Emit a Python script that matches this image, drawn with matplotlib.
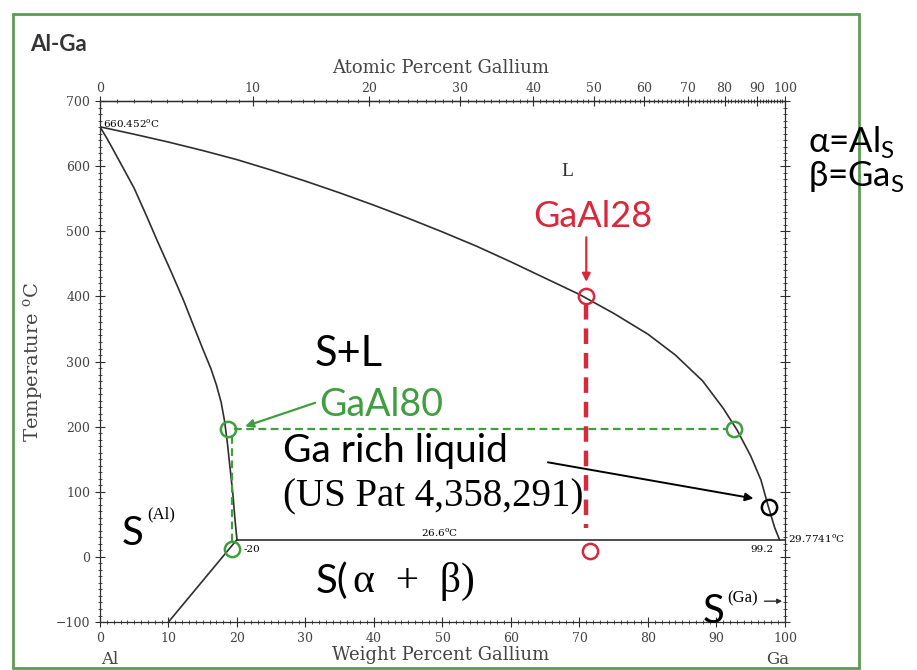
import matplotlib
matplotlib.use("Agg")
import matplotlib.pyplot as plt
from matplotlib.patches import Rectangle
from matplotlib.ticker import MultipleLocator, FixedLocator
import numpy as np

# phase boundaries (weight % Ga, temperature degC)
liq_wt = [0, 5, 10, 15, 20, 25, 30, 35, 40, 45, 50, 55, 60, 65, 70, 75, 80, 84, 88, 91,
          93, 95, 96.5, 97.5, 98.5, 99.2]
liq_T = [660.452, 649, 637, 624, 610, 594, 577, 559, 540, 520, 499, 477, 453, 428, 403, 374,
         342, 310, 270, 228, 195, 155, 118, 80, 45, 26.6]
sol_wt = [0, 1, 2, 3.4, 5, 6.7, 8.3, 10.3, 12.2, 13.7, 15.1, 16.2, 17.0, 17.7, 18.2, 18.6,
          19.0, 19.4, 19.7, 20.0]
sol_T = [660.452, 643, 624, 597, 566, 526, 487, 440, 394, 354, 317, 289, 264, 237, 208, 175,
         136, 97, 59, 26.6]
solvus_wt = [20.0, 10.0]
solvus_T = [26.6, -100]
eut_wt = [20.0, 100]
eut_T = [26.6, 26.6]

# marked alloys
gaal28_wt = [71.0, 71.6]
gaal28_T = [400, 9]
gaal80_wt = [18.7, 92.6, 19.3]
gaal80_T = [197, 197, 12]
ga_rich_wt = [97.6]
ga_rich_T = [77]

at_ticks = [0, 10, 20, 30, 40, 50, 60, 70, 80, 90, 100]

M_GA = 69.723
M_AL = 26.982


def wt2at(w):
    w = np.clip(np.asarray(w, dtype=float), 1e-9, 100 - 1e-9)
    return 100 * (w / M_GA) / (w / M_GA + (100 - w) / M_AL)


def at2wt(a):
    a = np.clip(np.asarray(a, dtype=float), 1e-9, 100 - 1e-9)
    return 100 * a * M_GA / (a * M_GA + (100 - a) * M_AL)


red = '#d8283c'
green = '#3f9f3f'
dark = '#2e2e2e'
grey = '#444444'
sans = ['Lato', 'DejaVu Sans']
serif = ['Liberation Serif', 'DejaVu Serif']
tickfont = 'DejaVu Serif'

fig = plt.figure(figsize=(9.17, 6.7), dpi=100)
ax = fig.add_axes([0.109, 0.0716, 0.747, 0.7776])

ax.plot(liq_wt, liq_T, color=dark, lw=1.2)
ax.plot(sol_wt, sol_T, color=dark, lw=1.2)
ax.plot(solvus_wt, solvus_T, color=dark, lw=1.2)
ax.plot(eut_wt, eut_T, color=dark, lw=1.2)

# GaAl28
ax.plot([gaal28_wt[0], gaal28_wt[0]], [388, 45], color=red, lw=3.2, dashes=(3.5, 2))
ax.plot(gaal28_wt, gaal28_T, 'o', ms=11, mfc='none', mec=red, mew=1.8)
ax.annotate('', xy=(gaal28_wt[0], 418), xytext=(gaal28_wt[0], 495),
            arrowprops=dict(arrowstyle='-|>', color=red, lw=1.6, mutation_scale=12))
ax.text(72.0, 523, 'GaAl28', color=red, fontsize=26, family=sans, ha='center', va='center')

# GaAl80
ax.plot([gaal80_wt[0] + 0.8, gaal80_wt[1] - 1], [gaal80_T[0], gaal80_T[1]], color=green, lw=1.6,
        dashes=(3.5, 2))
ax.plot([gaal80_wt[2], gaal80_wt[2]], [gaal80_T[0] - 12, gaal80_T[2] + 12], color=green, lw=1.6,
        dashes=(3.5, 2))
ax.plot(gaal80_wt, gaal80_T, 'o', ms=11, mfc='none', mec=green, mew=1.8)
ax.annotate('', xy=(20.8, 199), xytext=(31.8, 238),
            arrowprops=dict(arrowstyle='-|>', color=green, lw=1.6, mutation_scale=12))
ax.text(32.0, 234, 'GaAl80', color=green, fontsize=27, family=sans, ha='left', va='center')

# Ga rich liquid
ax.plot(ga_rich_wt, ga_rich_T, 'o', ms=11, mfc='none', mec='black', mew=1.8)
ax.annotate('', xy=(95.8, 89), xytext=(65, 146),
            arrowprops=dict(arrowstyle='-|>', color='black', lw=1.4, mutation_scale=12))
ax.text(26.7, 162, 'Ga rich liquid', color='black', fontsize=28, family=sans, ha='left', va='center')
ax.text(26.7, 92, '(US Pat 4,358,291)', color='black', fontsize=28, family=serif, ha='left',
        va='center')

# region labels
ax.text(68.3, 592, 'L', fontsize=14, family=serif, ha='center', va='center', color=dark)
ax.text(36.3, 312, 'S+L', fontsize=30, family=sans, ha='center', va='center')
ax.text(4.8, 36, 'S', fontsize=29, family=sans, ha='center', va='center')
ax.text(6.9, 66, '(Al)', fontsize=12, family=serif, ha='left', va='center')
ax.text(31.5, -38, 'S(', fontsize=29, family=sans, ha='left', va='center')
ax.text(36.9, -38, 'α  +  β)', fontsize=30, family=serif, ha='left', va='center')
ax.text(89.6, -84, 'S', fontsize=29, family=sans, ha='center', va='center', clip_on=False)
ax.text(91.6, -64, '(Ga)', fontsize=12, family=serif, ha='left', va='center')
ax.annotate('', xy=(100, -68), xytext=(96.6, -68),
            arrowprops=dict(arrowstyle='-|>', color=dark, lw=1.0, mutation_scale=7))

# small diagram labels
ax.text(0.5, 666, '660.452$^{\\mathregular{o}}$C', fontsize=7.5, family=tickfont, ha='left',
        va='center')
ax.text(20.9, 11, '-20', fontsize=7.5, family=tickfont, ha='left', va='center')
ax.text(49.6, 37, '26.6$^{\\mathregular{o}}$C', fontsize=7.5, family=tickfont, ha='center',
        va='center')
ax.text(96.6, 11, '99.2', fontsize=7.5, family=tickfont, ha='center', va='center')
ax.text(100.5, 28, '29.7741$^{\\mathregular{o}}$C', fontsize=7.5, family=tickfont, ha='left',
        va='center', clip_on=False)

# axes
ax.set_xlim(0, 100)
ax.set_ylim(-100, 700)
ax.xaxis.set_major_locator(MultipleLocator(10))
ax.xaxis.set_minor_locator(MultipleLocator(1))
ax.yaxis.set_major_locator(MultipleLocator(100))
ax.yaxis.set_minor_locator(MultipleLocator(10))
ax.tick_params(which='major', direction='inout', length=7, width=0.8, top=False, right=True,
               labelsize=9, labelcolor=grey, color=dark)
ax.tick_params(which='minor', direction='inout', length=3.5, width=0.6, top=False, right=True,
               color=dark)
for lab in ax.get_xticklabels() + ax.get_yticklabels():
    lab.set_family(tickfont)
for s in ax.spines.values():
    s.set_linewidth(0.9)
    s.set_color(dark)

secax = ax.secondary_xaxis('top', functions=(wt2at, at2wt))
secax.xaxis.set_major_locator(FixedLocator(at_ticks))
secax.xaxis.set_minor_locator(FixedLocator(list(range(1, 100))))
secax.tick_params(which='major', direction='inout', length=7, width=0.8, labelsize=9,
                  labelcolor=grey, color=dark, pad=1)
secax.tick_params(which='minor', direction='inout', length=3.5, width=0.6, color=dark)
for lab in secax.get_xticklabels():
    lab.set_family(tickfont)
secax.spines['top'].set_linewidth(0.9)

# titles outside the axes
fig.text(0.033, 0.933, 'Al-Ga', fontsize=16, fontweight='bold', family=sans, color='#333333',
         ha='left', va='center')
fig.text(0.48, 0.899, 'Atomic Percent Gallium', fontsize=13, family=tickfont, color=grey,
         ha='center', va='center')
fig.text(0.48, 0.022, 'Weight Percent Gallium', fontsize=13, family=tickfont, color=grey,
         ha='center', va='center')
fig.text(0.12, 0.016, 'Al', fontsize=12, family=tickfont, color=grey, ha='center', va='center')
fig.text(0.848, 0.016, 'Ga', fontsize=12, family=tickfont, color=grey, ha='center', va='center')
fig.text(0.037, 0.46, 'Temperature $^{\\mathregular{o}}$C', fontsize=14, family=tickfont,
         color=grey, rotation=90, ha='center', va='center')
fig.text(0.881, 0.788, 'α=Al$_{\\mathregular{S}}$', fontsize=25, family=sans, ha='left', va='center')
fig.text(0.881, 0.736, 'β=Ga$_{\\mathregular{S}}$', fontsize=25, family=sans, ha='left', va='center')

# green frame
fig.patches.append(Rectangle((0.0142, 0.003), 0.9226, 0.976, transform=fig.transFigure,
                             fill=False, edgecolor='#5e9a57', linewidth=2))

fig.savefig('out.png', dpi=100)
